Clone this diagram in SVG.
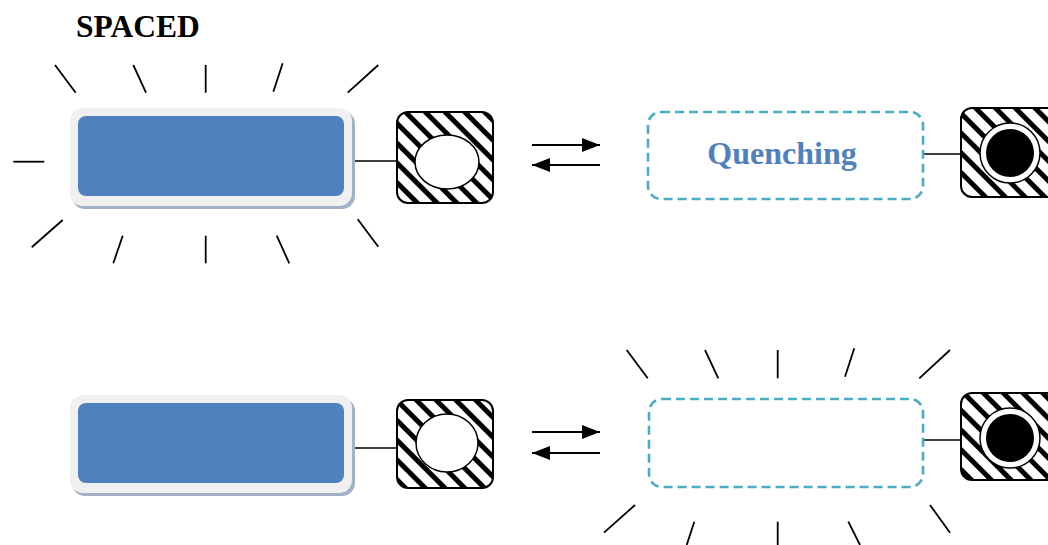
<svg xmlns="http://www.w3.org/2000/svg" width="1048" height="545" viewBox="0 0 1048 545">
<defs>
<pattern id="hatch" width="14" height="14" patternUnits="userSpaceOnUse" patternTransform="rotate(45)">
<rect width="14" height="14" fill="#fff"/>
<rect width="14" height="5" fill="#000"/>
</pattern>
<marker id="ah" viewBox="0 0 18 14" refX="18" refY="7" markerWidth="18" markerHeight="14" markerUnits="userSpaceOnUse" orient="auto">
<path d="M0,0 L18,7 L0,14 Z" fill="#000"/>
</marker>
</defs>
<style>
.ray{stroke:#000;stroke-width:1.8;fill:none}
.conn{stroke:#000;stroke-width:1.7;fill:none}
.arrow{stroke:#000;stroke-width:2.2;fill:none;marker-end:url(#ah)}
.shadow{fill:#A3B1C6}
.frame{fill:#F0F0F0}
.blue{fill:#4F81BD}
.hsq{fill:url(#hatch);stroke:#000;stroke-width:2}
.dash{fill:none;stroke:#4BACC6;stroke-width:2.6;stroke-dasharray:9 5}
.lbl{font-family:"Liberation Serif","Times New Roman",serif;font-weight:bold}
</style>

<text class="lbl" x="76" y="37" font-size="31.5" fill="#000">SPACED</text>

<g id="rays-top">
<line class="ray" x1="55" y1="65" x2="75.7" y2="92.7"/>
<line class="ray" x1="133.3" y1="65" x2="146" y2="92.7"/>
<line class="ray" x1="205.7" y1="65" x2="205.7" y2="92.7"/>
<line class="ray" x1="282.7" y1="63.3" x2="273.3" y2="91.7"/>
<line class="ray" x1="378.3" y1="65" x2="347.7" y2="92.7"/>
<line class="ray" x1="13.3" y1="161.7" x2="44.3" y2="161.7"/>
<line class="ray" x1="62.7" y1="220" x2="31.7" y2="247.3"/>
<line class="ray" x1="122.7" y1="235.7" x2="113.3" y2="263.3"/>
<line class="ray" x1="205.7" y1="235.7" x2="205.7" y2="263.3"/>
<line class="ray" x1="276.7" y1="235.7" x2="289.3" y2="263.3"/>
<line class="ray" x1="357.7" y1="219.3" x2="378.3" y2="246.7"/>
</g>

<g id="rays-bottom">
<line class="ray" x1="626.7" y1="350" x2="647.7" y2="378.3"/>
<line class="ray" x1="705" y1="350" x2="718.3" y2="378.3"/>
<line class="ray" x1="777.7" y1="350" x2="777.7" y2="378.3"/>
<line class="ray" x1="854.3" y1="348.3" x2="845" y2="376.7"/>
<line class="ray" x1="950" y1="350" x2="919.3" y2="378.3"/>
<line class="ray" x1="635" y1="505" x2="604" y2="532.7"/>
<line class="ray" x1="694.3" y1="521.7" x2="686.7" y2="545"/>
<line class="ray" x1="777.7" y1="521.7" x2="777.7" y2="545"/>
<line class="ray" x1="848.3" y1="521.7" x2="860" y2="545"/>
<line class="ray" x1="930" y1="505" x2="950" y2="532.7"/>
</g>

<g id="connectors">
<line class="conn" x1="352" y1="161" x2="397" y2="161"/>
<line class="conn" x1="352" y1="448" x2="397" y2="448"/>
<line class="conn" x1="923" y1="154" x2="961" y2="154"/>
<line class="conn" x1="923" y1="440" x2="961" y2="440"/>
<line class="arrow" x1="532" y1="145" x2="600" y2="145"/>
<line class="arrow" x1="600" y1="165" x2="532" y2="165"/>
<line class="arrow" x1="532" y1="432" x2="600" y2="432"/>
<line class="arrow" x1="600" y1="453" x2="532" y2="453"/>
</g>

<g id="bar-top">
<rect class="shadow" x="72" y="111" width="283" height="98" rx="13"/>
<rect class="frame" x="70" y="108" width="282" height="98" rx="13"/>
<rect class="blue" x="78" y="116" width="266" height="80" rx="8"/>
</g>

<g id="bar-bottom">
<rect class="shadow" x="72" y="398" width="283" height="98" rx="13"/>
<rect class="frame" x="70" y="395" width="282" height="98" rx="13"/>
<rect class="blue" x="78" y="403" width="266" height="80" rx="8"/>
</g>

<g id="donor-top">
<rect class="hsq" x="397" y="112" width="96" height="91" rx="11"/>
<ellipse cx="447" cy="162" rx="32" ry="27" fill="#fff" stroke="#000" stroke-width="1.5"/>
</g>

<g id="donor-bottom">
<rect class="hsq" x="397" y="400" width="96" height="88" rx="11"/>
<ellipse cx="447" cy="443" rx="31" ry="29" fill="#fff" stroke="#000" stroke-width="1.5"/>
</g>

<g id="quencher-top">
<rect class="dash" x="648" y="112" width="275" height="87" rx="13"/>
<text class="lbl" x="782" y="164" font-size="32" fill="#4F81BD" text-anchor="middle">Quenching</text>
</g>

<g id="quencher-bottom">
<rect class="dash" x="649" y="399" width="274" height="88" rx="13"/>
</g>

<g id="acceptor-top">
<rect class="hsq" x="961" y="108" width="97" height="89" rx="11"/>
<circle cx="1010" cy="153" r="30" fill="#fff" stroke="#000" stroke-width="1.5"/>
<circle cx="1010" cy="153" r="24" fill="#000"/>
</g>

<g id="acceptor-bottom">
<rect class="hsq" x="961" y="393" width="97" height="87" rx="11"/>
<circle cx="1010" cy="438" r="30" fill="#fff" stroke="#000" stroke-width="1.5"/>
<circle cx="1010" cy="438" r="24" fill="#000"/>
</g>
</svg>
